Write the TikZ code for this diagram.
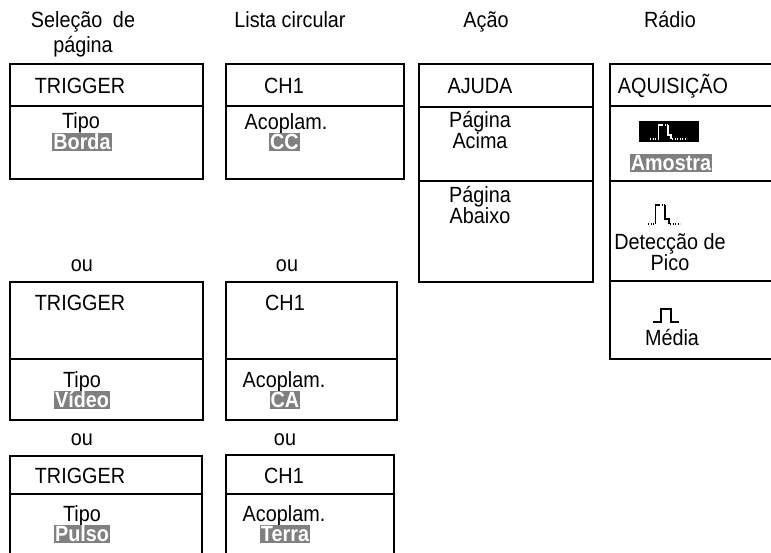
\documentclass[tikz,border=0pt]{standalone}
\usepackage{fontspec}
\setmainfont{Liberation Sans}[FakeStretch=0.9]
\definecolor{hlgray}{RGB}{128,128,128}
\tikzset{
  frame/.style={draw=black, line width=2pt},
  lbl/.style={anchor=base, inner sep=0pt},
  hl/.style={fill=hlgray, text=white, font=\fontsize{22}{25}\selectfont\bfseries, inner xsep=1pt, inner ysep=1pt, text height=15.5pt, text depth=0.5pt},
  wave/.style={line width=1.3pt},
  dots/.style={line width=1.3pt, dash pattern=on 1.2pt off 1.3pt},
}
\begin{document}
\begin{tikzpicture}[x=1pt, y=-1pt, font=\fontsize{22}{25}\selectfont]
\useasboundingbox (0,0) rectangle (771,552);

% headers
\node[lbl] (hd1a) at (83,27) {Seleção\hspace{5pt} de};
\node[lbl] (hd1b) at (83,52) {página};
\node[lbl] (hd2) at (290,27) {Lista circular};
\node[lbl] (hd3) at (486,27) {Ação};
\node[lbl] (hd4) at (670,27) {Rádio};

% ---- column 1, top
\draw[frame] (10,64) rectangle (203,179);
\draw[frame] (10,106) -- (203,106);
\node[lbl] (trig1) at (80,93) {TRIGGER};
\node[lbl] (tipo1) at (81,128) {Tipo};
\node[hl] (borda) at (82,141.5) {Borda};

% ---- column 2, top
\draw[frame] (226,64) rectangle (404,179);
\draw[frame] (226,106) -- (404,106);
\node[lbl] (ch1a) at (284,93) {CH1};
\node[lbl] (acop1) at (286,129) {Acoplam.};
\node[hl] (cc) at (284.5,141.5) {CC};

% ---- column 3
\draw[frame] (419,64) rectangle (593,282);
\draw[frame] (419,107) -- (593,107);
\draw[frame] (419,181) -- (593,181);
\node[lbl] (ajuda) at (480,93) {AJUDA};
\node[lbl] (pg1) at (480,127) {Página};
\node[lbl] (acima) at (480,148) {Acima};
\node[lbl] (pg2) at (480,202) {Página};
\node[lbl] (abaixo) at (480,223) {Abaixo};

% ---- column 4
\draw[frame] (775,64) -- (610,64) -- (610,359) -- (775,359);
\draw[frame] (610,106) -- (775,106);
\draw[frame] (610,181) -- (775,181);
\draw[frame] (610,281) -- (775,281);
\node[lbl] (aq) at (673,93) {AQUISIÇÃO};
% sample icon
\fill[black] (639,121) rectangle (699,142);
\draw[white,dots] (650,139) -- (658,139);
\draw[white,wave] (658.5,139) -- (658.5,125) -- (662,125);
\draw[white,dots] (662,125) -- (668,125);
\draw[white,wave] (668,125) -- (668,135) -- (671,135) -- (671,139);
\draw[white,dots] (672,139) -- (687,139);
\node[hl] (amostra) at (671,163) {Amostra};
% peak detect icon
\draw[black,dots] (648,224) -- (655,224);
\draw[black,wave] (655.5,224) -- (655.5,205) -- (659,205);
\draw[black,dots] (659,205) -- (665,205);
\draw[black,wave] (665,205) -- (665,219) -- (669,219) -- (669,224);
\draw[black,dots] (670,224) -- (680,224);
\node[lbl] (detec) at (670,249) {Detecção de};
\node[lbl] (pico) at (670,270) {Pico};
% average icon
\draw[black,line width=1.5pt] (653,322) -- (661,322) -- (661,309) -- (671,309) -- (671,322) -- (679,322);
\node[lbl] (media) at (672,345) {Média};

% ---- middle row
\node[lbl] (ou1) at (82,271) {ou};
\node[lbl] (ou2) at (287,271) {ou};
\draw[frame] (10,282) rectangle (203,420);
\draw[frame] (10,359) -- (203,359);
\node[lbl] (trig2) at (80,310) {TRIGGER};
\node[lbl] (tipo2) at (82,387) {Tipo};
\node[hl] (video) at (82,399.5) {Vídeo};

\draw[frame] (226,282) rectangle (397,420);
\draw[frame] (226,359) -- (397,359);
\node[lbl] (ch1b) at (285,310) {CH1};
\node[lbl] (acop2) at (284,387) {Acoplam.};
\node[hl] (ca) at (285,400) {CA};

% ---- bottom row
\node[lbl] (ou3) at (82,445) {ou};
\node[lbl] (ou4) at (285,445) {ou};
\draw[frame] (10,560) -- (10,456) -- (202,456) -- (202,560);
\draw[frame] (10,494) -- (202,494);
\node[lbl] (trig3) at (80,483) {TRIGGER};
\node[lbl] (tipo3) at (82,521) {Tipo};
\node[hl] (pulso) at (82,533.5) {Pulso};

\draw[frame] (226,560) -- (226,455) -- (394,455) -- (394,560);
\draw[frame] (226,494) -- (394,494);
\node[lbl] (ch1c) at (284,483) {CH1};
\node[lbl] (acop3) at (284,521) {Acoplam.};
\node[hl] (terra) at (285,533.5) {Terra};
\end{tikzpicture}
\end{document}
